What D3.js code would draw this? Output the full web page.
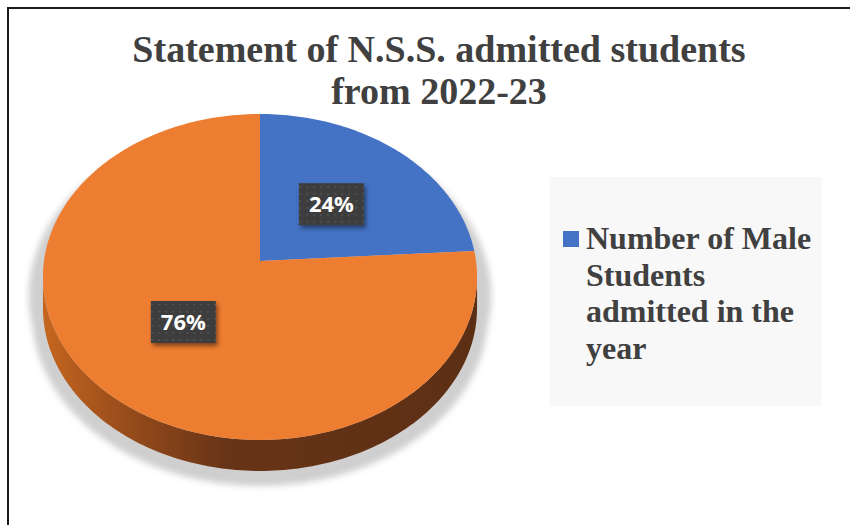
<!DOCTYPE html>
<html>
<head>
<meta charset="utf-8">
<script src="https://cdn.jsdelivr.net/npm/d3@7/dist/d3.min.js"></script>
<style>
body { margin: 0; background: #ffffff; }
</style>
</head>
<body>
<div id="chart"></div>
<script>
// chart data
var categories = ["Number of Male Students admitted in the year", "Number of Female Students admitted in the year"];
var values = [24, 76];
var colors = ["#4472c4", "#ed7d31"];
var titleLines = ["Statement of N.S.S. admitted students", "from 2022-23"];
var legendLines = ["Number of Male", "Students", "admitted in the", "year"];

// layout
var width = 850, height = 525;
var cx = 260, cy = 261;        // apex of the pie on screen
var rx = 216, ry = 161.4;      // projected radii
var persp = 0.098;             // perspective factor (back gets smaller)
var depth = 31;                // thickness of the pie
var labelRadius = 0.5;

var svg = d3.select('#chart').append('svg')
    .attr('width', width)
    .attr('height', height);

var defs = svg.append('defs');

// soft edge for the shadow
var blur = defs.append('filter').attr('id', 'pieShadow')
    .attr('filterUnits', 'userSpaceOnUse')
    .attr('x', 0).attr('y', 80).attr('width', 540).attr('height', 445);
blur.append('feGaussianBlur').attr('in', 'SourceGraphic').attr('stdDeviation', 3);

// drop shadow for label boxes
var drop = defs.append('filter').attr('id', 'boxShadow')
    .attr('x', '-30%').attr('y', '-30%').attr('width', '160%').attr('height', '160%');
drop.append('feDropShadow').attr('dx', 2).attr('dy', 3).attr('stdDeviation', 2)
    .attr('flood-color', '#000').attr('flood-opacity', 0.45);

// dotted pattern for label boxes
var pat = defs.append('pattern').attr('id', 'dots')
    .attr('patternUnits', 'userSpaceOnUse')
    .attr('width', 7).attr('height', 7);
pat.append('rect').attr('width', 7).attr('height', 7).attr('fill', '#3d3d3d');
pat.append('rect').attr('x', 3).attr('y', 3).attr('width', 1.5).attr('height', 1.5).attr('fill', '#5a5a5a');

// side gradient (brown, darker toward front-right)
var grad = defs.append('linearGradient').attr('id', 'sideGrad')
    .attr('gradientUnits', 'userSpaceOnUse')
    .attr('x1', cx - rx).attr('x2', cx + rx).attr('y1', 0).attr('y2', 0);
grad.append('stop').attr('offset', '0').attr('stop-color', '#c4661f');
grad.append('stop').attr('offset', '0.18').attr('stop-color', '#9a4d1b');
grad.append('stop').attr('offset', '0.42').attr('stop-color', '#683417');
grad.append('stop').attr('offset', '1').attr('stop-color', '#5c2f14');

// project a point of the unit disc (angle clockwise from 12 o'clock) to screen
function proj(a, r, dy, scale) {
    var s = scale || 1;
    var u = r * Math.sin(a), w = r * Math.cos(a);
    var d = 1 + persp * w;
    return [cx + s * rx * u / d, cy - s * ry * w / d + (dy || 0)];
}

function arcPoints(a0, a1, r, dy, scale) {
    var pts = [];
    var n = Math.max(2, Math.ceil(Math.abs(a1 - a0) / 0.02));
    for (var i = 0; i <= n; i++) {
        pts.push(proj(a0 + (a1 - a0) * i / n, r, dy, scale));
    }
    return pts;
}

var line = d3.line();

var pie = d3.pie().sort(null).startAngle(0).endAngle(2 * Math.PI);
var arcs = pie(values);

// shadow (wider than the pie, pushed down)
var shadow = svg.append('g').attr('filter', 'url(#pieShadow)');
shadow.append('path')
    .attr('d', line(arcPoints(0, 2 * Math.PI, 1, 18, 1.065)) + 'Z')
    .attr('fill', '#cfcfcf');
shadow.append('path')
    .attr('d', line(arcPoints(0, 2 * Math.PI, 1, depth + 6, 1.05)) + 'Z')
    .attr('fill', '#cfcfcf');

// sides: visible front part lies between the widest points
var aRight = Math.acos(-persp);
var aLeft = 2 * Math.PI - aRight;
arcs.forEach(function(d, i) {
    var s = Math.max(d.startAngle, aRight);
    var e = Math.min(d.endAngle, aLeft);
    if (e <= s) return;
    var top = arcPoints(s, e, 1, 0);
    var bottom = arcPoints(e, s, 1, depth);
    svg.append('path')
        .attr('d', line(top.concat(bottom)) + 'Z')
        .attr('fill', 'url(#sideGrad)');
});

// top faces
svg.selectAll('.slice')
    .data(arcs)
    .enter()
    .append('path')
    .attr('class', 'slice')
    .attr('d', function(d) {
        var pts = [proj(0, 0, 0)].concat(arcPoints(d.startAngle, d.endAngle, 1, 0));
        return line(pts) + 'Z';
    })
    .attr('fill', function(d, i) { return colors[i]; });

// data labels
var total = d3.sum(values);
var labels = svg.selectAll('.lbl')
    .data(arcs)
    .enter()
    .append('g')
    .attr('class', 'lbl')
    .attr('transform', function(d) {
        var p = proj((d.startAngle + d.endAngle) / 2, labelRadius, 0);
        return 'translate(' + p[0] + ',' + p[1] + ')';
    });

labels.each(function(d) {
    var g = d3.select(this);
    var box = g.append('rect').attr('fill', 'url(#dots)').attr('filter', 'url(#boxShadow)');
    var t = g.append('text')
        .attr('text-anchor', 'middle')
        .attr('dy', '0.36em')
        .attr('font-family', '"Open Sans", sans-serif')
        .attr('font-weight', 'bold')
        .attr('font-size', '22px')
        .attr('fill', '#ffffff')
        .text(Math.round(d.data / total * 100) + '%');
    var w = t.node().getComputedTextLength() + 20;
    var h = 42;
    box.attr('x', -w / 2).attr('y', -h / 2).attr('width', w).attr('height', h);
});

// title
svg.selectAll('.title')
    .data(titleLines)
    .enter()
    .append('text')
    .attr('class', 'title')
    .attr('x', 439)
    .attr('y', function(d, i) { return 62 + i * 42; })
    .attr('text-anchor', 'middle')
    .attr('font-family', '"Liberation Serif", "Times New Roman", serif')
    .attr('font-weight', 'bold')
    .attr('font-size', '38px')
    .attr('fill', '#404040')
    .text(function(d) { return d; });

// legend (only the first series is shown)
var legend = svg.append('g');
legend.append('rect')
    .attr('x', 550).attr('y', 177)
    .attr('width', 272).attr('height', 229)
    .attr('fill', '#f8f8f8');
legend.append('rect')
    .attr('x', 563).attr('y', 231)
    .attr('width', 16).attr('height', 16)
    .attr('fill', colors[0]);
legend.selectAll('.legend_text')
    .data(legendLines)
    .enter()
    .append('text')
    .attr('x', 586)
    .attr('y', function(d, i) { return 249 + i * 36.7; })
    .attr('font-family', '"Liberation Serif", "Times New Roman", serif')
    .attr('font-weight', 'bold')
    .attr('font-size', '32px')
    .attr('fill', '#404040')
    .text(function(d) { return d; });

// frame (left and top edges)
svg.append('line')
    .attr('x1', 8).attr('y1', 7).attr('x2', 8).attr('y2', height)
    .attr('stroke', '#1a1a1a').attr('stroke-width', 2);
svg.append('line')
    .attr('x1', 7).attr('y1', 8).attr('x2', width).attr('y2', 8)
    .attr('stroke', '#1a1a1a').attr('stroke-width', 2);
</script>
</body>
</html>
